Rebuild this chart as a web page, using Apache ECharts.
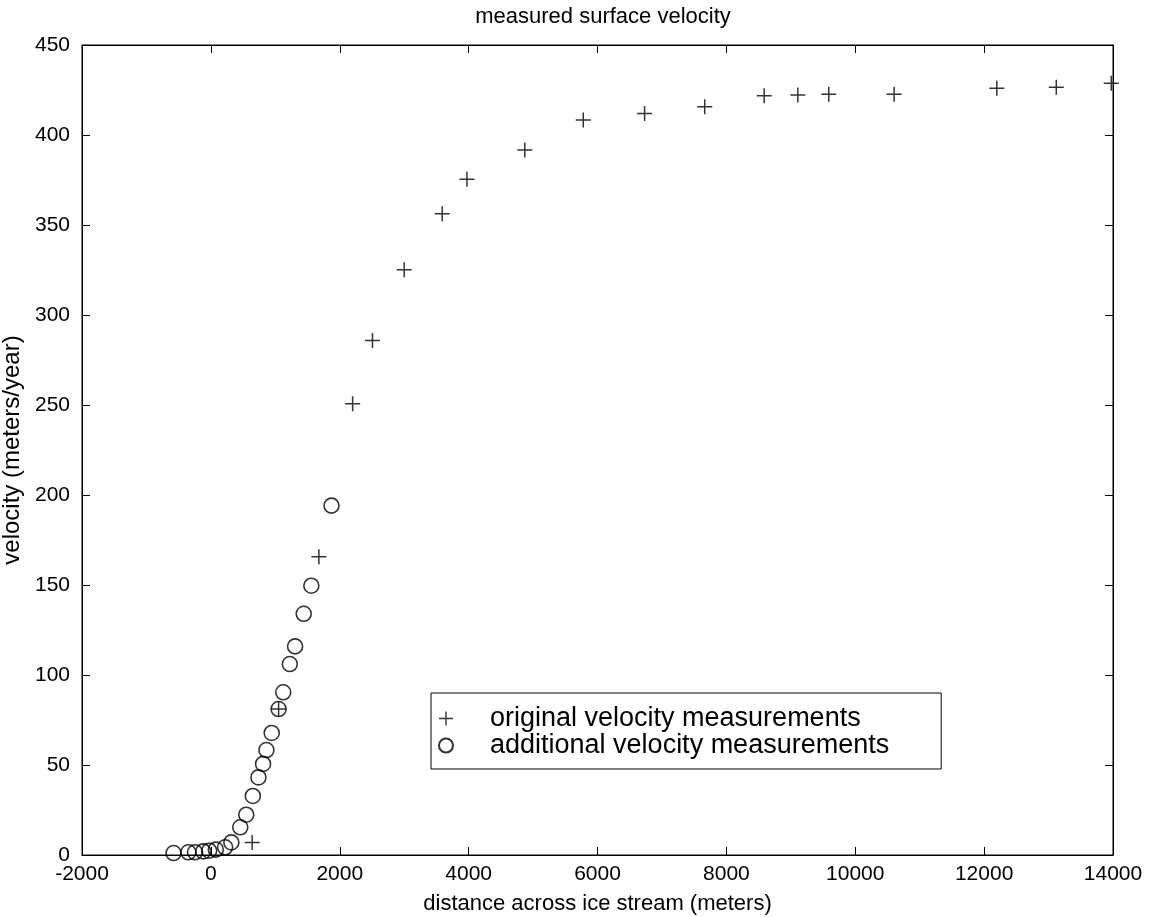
<!DOCTYPE html>
<html>
<head>
<meta charset="utf-8">
<script src="https://cdn.jsdelivr.net/npm/echarts@6/dist/echarts.min.js"></script>
<style>
  html, body { margin: 0; padding: 0; background: #fff; }
  #main { width: 1157px; height: 917px; }
</style>
</head>
<body>
<div id="main"></div>
<script>
// data
var xTicks = [-2000, 0, 2000, 4000, 6000, 8000, 10000, 12000, 14000];
var yTicks = [0, 50, 100, 150, 200, 250, 300, 350, 400, 450];

var origX = [641, 1051, 1676, 2200, 2508, 3000, 3590, 3974, 4872, 5779, 6731, 7664, 8587, 9109, 9589, 10603, 12197, 13120, 13973];
var origY = [7.0, 81.1, 165.7, 250.7, 285.9, 325.2, 356.3, 375.4, 391.7, 408.3, 412.0, 415.7, 421.8, 422.2, 422.6, 422.6, 426.0, 426.5, 428.7];

var addX = [-579, -349, -246, -118, -26, 77, 221, 318, 456, 549, 651, 738, 810, 862, 944, 1051, 1123, 1225, 1307, 1441, 1559, 1872];
var addY = [1.1, 1.5, 1.5, 2.0, 2.4, 3.0, 4.3, 7.0, 15.4, 22.4, 32.8, 43.1, 50.6, 58.3, 67.8, 81.1, 90.4, 106.1, 115.9, 134.0, 149.6, 194.1];

function pairs(xs, ys) {
    return xs.map(function (x, i) { return [x, ys[i]]; });
}
function plain(v) { return String(v); }

var plus = 'path://M4.5,0H5.5V4.5H10V5.5H5.5V10H4.5V5.5H0V4.5H4.5Z';
var font = '"Liberation Sans", Arial, Helvetica, sans-serif';

var myChart = echarts.init(document.getElementById('main'));
var option = {
    backgroundColor: '#fff',
    animation: false,
    textStyle: { fontFamily: font, color: '#000' },
    title: {
        text: 'measured surface velocity',
        left: 598,
        textAlign: 'center',
        top: 1,
        textStyle: { fontFamily: font, fontSize: 22, fontWeight: 'normal', color: '#000' }
    },
    grid: {
        left: 82, right: 44, top: 45, bottom: 62,
        outerBoundsMode: 'none',
        containLabel: false,
        show: true, borderColor: '#000', borderWidth: 1
    },
    legend: {
        orient: 'vertical',
        left: 431, top: 693,
        padding: [12, 52, 10, 7],
        itemGap: 0,
        itemWidth: 14, itemHeight: 14,
        borderColor: '#000', borderWidth: 1,
        backgroundColor: '#fff',
        textStyle: { fontFamily: font, fontSize: 27, lineHeight: 26, color: '#000', padding: [0, 0, 0, 32] },
        data: ['original velocity measurements', 'additional velocity measurements']
    },
    xAxis: [{
        type: 'value', min: xTicks[0], max: xTicks[xTicks.length - 1], interval: 2000,
        name: 'distance across ice stream (meters)',
        nameLocation: 'middle', nameGap: 38,
        nameTextStyle: { fontFamily: font, fontSize: 22, color: '#000' },
        axisLine: { show: true, onZero: false, lineStyle: { color: '#000', width: 1 } },
        axisTick: { show: true, inside: true, length: 8, lineStyle: { color: '#000' } },
        axisLabel: { fontFamily: font, fontSize: 21, color: '#000', margin: 9, formatter: plain },
        splitLine: { show: false }
    }, {
        type: 'value', position: 'top', min: xTicks[0], max: xTicks[xTicks.length - 1], interval: 2000,
        axisLine: { show: true, onZero: false, lineStyle: { color: '#000' } },
        axisTick: { show: true, inside: true, length: 8, lineStyle: { color: '#000' } },
        axisLabel: { show: false },
        splitLine: { show: false }
    }],
    yAxis: [{
        type: 'value', min: yTicks[0], max: yTicks[yTicks.length - 1], interval: 50,
        name: 'velocity (meters/year)',
        nameLocation: 'middle', nameGap: 48,
        nameTextStyle: { fontFamily: font, fontSize: 24, color: '#000' },
        axisLine: { show: true, onZero: false, lineStyle: { color: '#000', width: 1 } },
        axisTick: { show: true, inside: true, length: 8, lineStyle: { color: '#000' } },
        axisLabel: { fontFamily: font, fontSize: 21, color: '#000', margin: 12, formatter: plain },
        splitLine: { show: false }
    }, {
        type: 'value', position: 'right', min: yTicks[0], max: yTicks[yTicks.length - 1], interval: 50,
        axisLine: { show: true, onZero: false, lineStyle: { color: '#000' } },
        axisTick: { show: true, inside: true, length: 8, lineStyle: { color: '#000' } },
        axisLabel: { show: false },
        splitLine: { show: false }
    }],
    series: [{
        name: 'original velocity measurements',
        type: 'scatter',
        symbol: plus,
        symbolSize: 15,
        itemStyle: { color: '#000' },
        data: pairs(origX, origY)
    }, {
        name: 'additional velocity measurements',
        type: 'scatter',
        symbol: 'circle',
        symbolSize: 15,
        itemStyle: { color: 'rgba(0,0,0,0)', borderColor: '#000', borderWidth: 1.6 },
        data: pairs(addX, addY)
    }]
};
myChart.setOption(option);

window.addEventListener('resize', function () {
    myChart.resize();
});
</script>
</body>
</html>
